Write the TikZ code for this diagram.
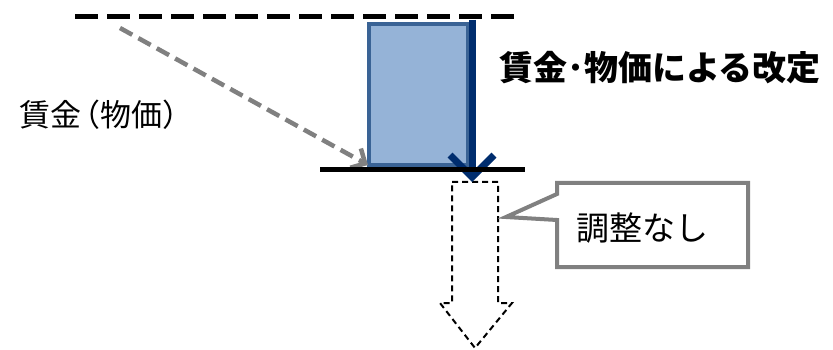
\documentclass[tikz,border=0pt]{standalone}
\usepackage{fontspec}
\setmainfont{Noto Sans CJK JP}
\usetikzlibrary{arrows.meta}
\definecolor{boxfill}{HTML}{95B3D7}
\definecolor{boxedge}{HTML}{3A6395}
\definecolor{navy}{HTML}{002D6E}
\definecolor{arrgray}{HTML}{808080}
\begin{document}
\begin{tikzpicture}[x=1pt,y=-1pt,
  levelline/.style={line width=5pt, black},
  barbox/.style={draw=boxedge, fill=boxfill, line width=4pt, inner sep=0pt},
  bigarrow/.style={navy, line width=7pt, -{Straight Barb[length=22pt,width=44pt]}},
  grayarrow/.style={arrgray, line width=4.5pt, dash pattern=on 14pt off 7pt, -{Straight Barb[length=11pt,width=22pt]}},
  callout/.style={draw=arrgray, fill=white, line width=4pt},
  blockarr/.style={draw=black, fill=white, line width=2pt, dash pattern=on 6pt off 4pt},
  lbl/.style={inner sep=0pt, text=black}]
\useasboundingbox (0,0) rectangle (833,350);
\fill[white] (0,0) rectangle (833,350);
% top dashed level
\coordinate (t1) at (75,17);
\coordinate (t2) at (515,17);
\draw[levelline, dash pattern=on 23pt off 9pt] (t1) -- (t2);
% block arrow (dashed)
\draw[blockarr] (452,182) -- (498,182) -- (498,303) -- (512,303) -- (475,348) -- (440,303) -- (452,303) -- cycle;
% blue box
\node[barbox, minimum width=99pt, minimum height=141pt] (box) at (418.5,94.5) {};
% navy arrow
\coordinate (n1) at (472,20);
\coordinate (n2) at (472,182);
\draw[bigarrow] (n1) -- (n2);
% gray arrow
\coordinate (g1) at (120,28);
\coordinate (g2) at (368,165);
\draw[grayarrow] (g1) -- (g2);
% base line
\coordinate (b1) at (320,170);
\coordinate (b2) at (525,170);
\draw[levelline] (b1) -- (b2);
% texts
\node[lbl, font=\bfseries\fontsize{34}{40}\selectfont] (rev) at (660,68) {賃金･物価による改定};
\node[lbl, font=\fontsize{31}{36}\selectfont] (wage) at (100,115) {賃金\kern-0.4em（物価）\kern-0.4em};
% callout
\draw[callout] (557,183) -- (748,183) -- (748,267) -- (557,267) -- (557,220) -- (506,217) -- (557,194) -- cycle;
\node[lbl, font=\fontsize{33}{38}\selectfont] (adj) at (642,228) {調整なし};
\end{tikzpicture}
\end{document}
